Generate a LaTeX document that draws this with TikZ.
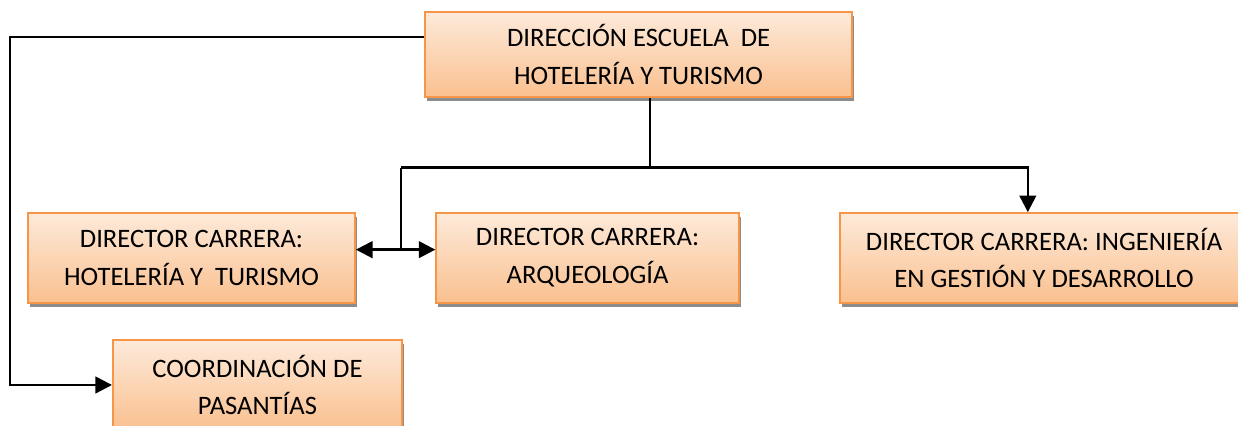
\documentclass[tikz,border=0pt]{standalone}
\usepackage{fontspec}
\setmainfont{Carlito}
\usepackage{xcolor}
\usepackage{tikz}
\usetikzlibrary{shapes, arrows.meta, positioning, shadows, calc}

\definecolor{boxline}{HTML}{F79646}
\definecolor{boxtop}{HTML}{FDEADA}
\definecolor{boxbottom}{HTML}{FAC08F}

\begin{document}
\begin{tikzpicture}[
    node distance=3.01cm,
    auto,
    block/.style={
        rectangle,
        draw=boxline,
        line width=0.7pt,
        top color=boxtop,
        bottom color=boxbottom,
        align=center,
        font=\fontsize{11.2pt}{15.9pt}\selectfont,
        minimum height=1.33cm,
        inner sep=0pt,
        drop shadow={shadow xshift=0.03cm, shadow yshift=-0.055cm, fill=black!45, opacity=1}
    },
    line/.style={
        draw,
        -{Triangle[length=7pt,width=7pt]},
        line width=1pt
    }
]
\useasboundingbox (0,0) rectangle (18.32,-6.29);

% Nodes
\node [block, minimum width=6.32cm, minimum height=1.26cm] (escuela) at (9.45,-0.807) {DIRECCIÓN ESCUELA~ DE\\HOTELERÍA Y TURISMO};
% Career directors below the school board
\node [block, below of=escuela, xshift=-6.616cm, minimum width=4.84cm] (hoteleria) {DIRECTOR CARRERA:\\HOTELERÍA Y~ TURISMO};
\node [block, below of=escuela, xshift=-0.755cm, minimum width=4.48cm] (arqueo) {DIRECTOR CARRERA:\\ARQUEOLOGÍA};
\node [block, below of=escuela, xshift=6.0cm, minimum width=6.04cm] (ingenieria) {DIRECTOR CARRERA: INGENIERÍA\\EN GESTIÓN Y DESARROLLO};
\node [block, below of=hoteleria, node distance=1.88cm, xshift=0.976cm, minimum width=4.28cm] (pasantias) {COORDINACIÓN DE\\PASANTÍAS};

% Junctions
\coordinate (split) at ($(escuela.south)+(0.17,-1.03)$);
\coordinate (leftend) at ($(split)+(-3.685,0)$);
\coordinate (midpoint) at ($(leftend)+(0,-1.215)$);

% Paths
\path [line, -] (escuela.south -| split) -- (split);
\path [line] (leftend) -- (split) -| ($(ingenieria.north)+(-0.24,0)$);
\path [line, -] (leftend) -- (midpoint);
\path [line] (midpoint) -- (midpoint -| hoteleria.east);
\path [line] (midpoint) -- (midpoint -| arqueo.west);
% Side branch to the internship office
\path [line] ($(escuela.west)+(0,0.26)$) -- ++(-6.127,0) |- (pasantias.west);

\end{tikzpicture}
\end{document}
